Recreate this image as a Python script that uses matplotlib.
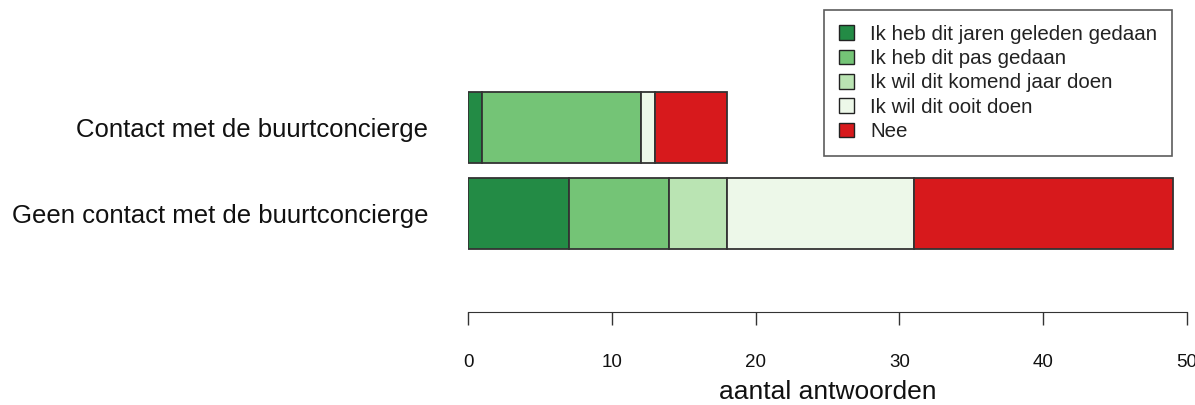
import matplotlib
matplotlib.use('Agg')
import matplotlib.pyplot as plt
from matplotlib.patches import Patch
import numpy as np

plt.rcParams['font.family'] = ['Liberation Sans', 'DejaVu Sans']

# Data
groups = ['Geen contact met de buurtconcierge', 'Contact met de buurtconcierge']
answers = ['Ik heb dit jaren geleden gedaan', 'Ik heb dit pas gedaan',
           'Ik wil dit komend jaar doen', 'Ik wil dit ooit doen', 'Nee']
jaren_geleden = [7, 1]
pas_gedaan = [7, 11]
komend_jaar = [4, 0]
ooit = [13, 1]
nee = [18, 5]
colors = ['#238B45', '#74C476', '#BAE4B3', '#EDF8E9', '#D7191C']

series = [jaren_geleden, pas_gedaan, komend_jaar, ooit, nee]

fig = plt.figure(figsize=(11.95, 4.05), dpi=100)
# axes placed in pixel terms: x 468..1187, y (from top) 20..312
W, H = 1195, 405
ax = fig.add_axes([468 / W, (H - 312) / H, (1187 - 468) / W, (312 - 20) / H])

y = np.array([0.7, 1.9])
left = np.zeros(len(groups))
for vals, col in zip(series, colors):
    vals = np.array(vals, dtype=float)
    ax.barh(y, vals, height=1.0, left=left, color=col, edgecolor='#333333',
            linewidth=1.3)
    left += vals

ax.set_xlim(0, 50)
ax.set_ylim(-0.674, 3.40)
ax.set_yticks(y)
ax.set_yticklabels(groups, fontsize=18.5, color='#111111')
ax.tick_params(axis='y', length=0, pad=28.8)
ax.set_xticks([0, 10, 20, 30, 40, 50])
ax.tick_params(axis='x', length=9.4, width=1, pad=21, labelsize=13.5,
               color='#333333', labelcolor='#111111')
for s in ['top', 'right', 'left']:
    ax.spines[s].set_visible(False)
ax.spines['bottom'].set_color('#333333')
ax.set_xlabel('aantal antwoorden', fontsize=19, labelpad=6, color='#111111')

handles = [Patch(facecolor=c, edgecolor='#222222', linewidth=1) for c in colors]
leg = fig.legend(handles, answers, loc='upper left',
                 bbox_to_anchor=(824 / W, 1 - 10 / H), fontsize=14.8,
                 frameon=True, fancybox=False, edgecolor='#333333',
                 handlelength=0.72, handleheight=0.72, handletextpad=0.8,
                 labelspacing=0.26, borderpad=0.72, borderaxespad=0)
leg.get_frame().set_linewidth(1.2)
for t in leg.get_texts():
    t.set_color('#222222')

fig.savefig('out.png', dpi=100)
